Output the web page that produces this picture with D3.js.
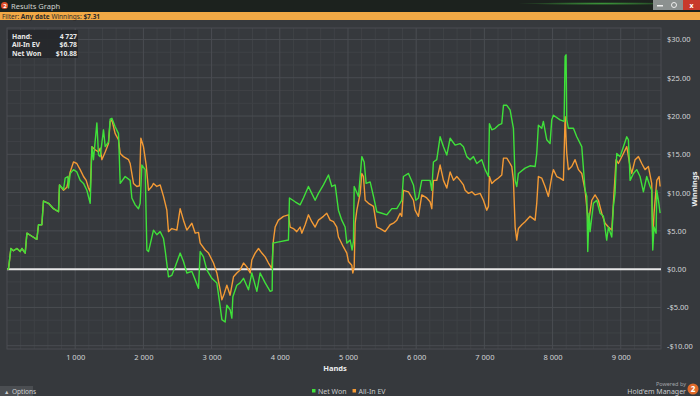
<!DOCTYPE html>
<html>
<head>
<meta charset="utf-8">
<script src="https://cdn.jsdelivr.net/npm/d3@7"></script>
<style>
  body { margin: 0; background: #36393d; }
  svg { display: block; font-family: "Noto Sans", "Open Sans", sans-serif; }
</style>
</head>
<body>
<div id="chart"></div>
<script>
// hands played vs cumulative winnings ($)
const netWon = [
  [0,0],[22,0],[57,2.7],[95,2.4],[145,2.7],[194,2.3],[218,2.7],[267,2.1],[292,4.7],[365,4.3],
  [438,3.9],[462,5.8],[511,5.8],[535,8.9],[609,8.6],[682,7.9],[755,7.5],[770,11.0],[829,10.4],[853,11.9],
  [892,12.1],[902,10.6],[927,12.5],[975,13.0],[1024,12.7],[1073,11.6],[1122,11.2],[1171,10.3],[1220,8.6],[1245,16.0],
  [1268,14.3],[1318,19.1],[1342,14.9],[1366,14.7],[1415,18.2],[1440,16.0],[1488,16.6],[1513,19.6],[1538,19.7],[1586,18.6],
  [1635,17.7],[1660,11.2],[1733,12.1],[1806,11.6],[1831,9.3],[1880,8.4],[1928,7.9],[1953,8.6],[1978,13.6],[2026,13.0],
  [2051,2.5],[2075,2.3],[2148,5.1],[2197,4.5],[2246,4.9],[2295,4.0],[2319,2.5],[2368,-1.0],[2417,-0.8],[2466,0.3],
  [2539,2.1],[2588,1.0],[2637,-0.5],[2711,-0.3],[2760,-1.4],[2808,-2.5],[2833,2.3],[2881,1.6],[2930,-0.1],[3004,-1.2],
  [3077,-1.8],[3126,-4.9],[3151,-6.6],[3199,-6.9],[3224,-4.7],[3272,-5.3],[3297,-6.4],[3312,-3.6],[3370,-2.1],[3419,-1.8],
  [3468,-1.2],[3541,-2.7],[3590,-0.5],[3664,-2.9],[3712,-0.5],[3786,-1.8],[3859,-2.9],[3888,-2.8],[3898,3.4],[4006,3.6],
  [4127,3.8],[4142,9.3],[4225,8.8],[4298,8.4],[4347,9.3],[4420,10.8],[4469,9.9],[4518,9.0],[4567,9.9],[4640,11.0],
  [4714,12.3],[4763,10.8],[4812,11.0],[4860,7.7],[4909,6.4],[4958,5.5],[4983,3.4],[5032,3.8],[5061,2.5],[5080,3.6],
  [5091,10.8],[5154,9.5],[5203,14.7],[5237,14.0],[5266,11.2],[5325,11.4],[5374,9.5],[5423,7.5],[5496,7.3],[5570,7.1],
  [5643,7.9],[5716,7.9],[5789,9.0],[5813,12.1],[5887,12.5],[5960,11.0],[5995,9.0],[6033,9.3],[6082,11.6],[6204,11.6],
  [6229,10.3],[6253,14.0],[6302,14.3],[6351,17.3],[6400,16.0],[6449,14.9],[6498,17.1],[6571,16.2],[6644,16.4],[6693,16.0],
  [6742,14.7],[6791,14.3],[6840,14.7],[6889,13.8],[6962,14.3],[7011,13.0],[7060,12.1],[7074,19.0],[7109,18.2],[7158,18.4],
  [7206,18.8],[7255,19.0],[7280,21.4],[7329,21.4],[7377,20.8],[7426,18.4],[7451,11.6],[7475,10.8],[7499,12.5],[7597,13.2],
  [7670,13.5],[7744,13.4],[7768,15.1],[7792,18.8],[7841,18.4],[7865,19.3],[7915,16.9],[7963,16.4],[7988,19.5],[8012,20.1],
  [8110,19.5],[8169,19.3],[8184,27.8],[8198,28.0],[8208,19.5],[8232,18.4],[8306,18.4],[8355,17.3],[8428,16.0],[8477,10.3],
  [8502,9.5],[8516,2.3],[8535,7.3],[8550,4.9],[8599,8.6],[8648,9.0],[8697,7.3],[8746,6.9],[8794,3.8],[8819,5.5],
  [8868,4.2],[8892,8.2],[8916,9.9],[8941,15.1],[8990,14.7],[9039,16.0],[9088,17.3],[9112,16.9],[9137,11.6],[9186,12.5],
  [9234,13.0],[9283,12.1],[9332,10.1],[9381,12.1],[9430,10.8],[9454,10.3],[9469,2.5],[9488,5.5],[9518,4.7],[9528,10.3],
  [9552,9.0],[9577,7.31]
];

const allInEV = [
  [0,0],[22,0],[57,2.7],[95,2.4],[145,2.7],[194,2.3],[218,2.7],[267,2.1],[292,4.7],[365,4.3],
  [438,3.9],[462,5.8],[511,5.8],[535,8.9],[609,8.6],[682,7.9],[755,7.5],[770,11.0],[829,10.3],[878,10.7],
  [927,12.7],[975,14.0],[1024,13.8],[1073,13.0],[1122,12.1],[1161,11.6],[1195,10.6],[1220,10.1],[1245,16.0],[1293,15.6],
  [1342,15.3],[1366,15.8],[1391,14.3],[1440,15.3],[1488,16.4],[1513,19.3],[1538,19.5],[1586,17.7],[1635,16.9],[1660,15.1],
  [1708,14.7],[1782,14.3],[1806,13.8],[1855,11.2],[1904,10.8],[1943,10.9],[1963,17.1],[2001,16.0],[2041,13.6],[2075,10.3],
  [2124,10.8],[2148,11.2],[2197,10.8],[2246,11.0],[2295,9.5],[2344,7.7],[2368,4.9],[2417,5.3],[2491,5.1],[2539,7.9],
  [2588,6.4],[2637,5.1],[2711,6.0],[2760,4.7],[2808,4.8],[2833,3.4],[2906,2.5],[2955,2.1],[3028,0.8],[3077,-0.5],
  [3126,-2.7],[3151,-4.0],[3185,-3.2],[3224,-2.1],[3272,-3.4],[3321,-1.0],[3370,-0.5],[3419,-0.1],[3468,0.8],[3517,0.3],
  [3566,-0.5],[3590,1.2],[3639,2.1],[3688,2.7],[3737,2.1],[3786,1.6],[3834,0.8],[3883,0.1],[3907,3.8],[3932,5.5],
  [3980,6.4],[4054,6.9],[4127,7.1],[4152,5.5],[4200,5.3],[4249,4.9],[4298,5.5],[4323,4.7],[4372,5.8],[4420,7.1],
  [4469,6.2],[4518,5.5],[4567,6.4],[4640,6.9],[4689,7.3],[4738,6.4],[4787,6.2],[4836,5.5],[4860,4.2],[4933,2.9],
  [4983,2.1],[5007,1.0],[5056,0.5],[5071,-0.5],[5091,0.3],[5105,6.0],[5130,7.7],[5179,9.9],[5203,12.5],[5227,12.1],
  [5252,9.0],[5301,8.6],[5374,8.2],[5423,5.5],[5472,5.3],[5545,4.9],[5618,5.8],[5667,6.0],[5716,6.4],[5765,7.3],
  [5789,6.9],[5813,10.3],[5887,10.1],[5960,9.0],[5984,7.7],[6033,6.9],[6082,9.7],[6155,9.3],[6204,8.8],[6229,7.9],
  [6253,11.6],[6302,11.6],[6351,13.6],[6400,11.6],[6449,10.6],[6498,12.7],[6547,11.6],[6596,12.1],[6644,11.6],[6693,11.0],
  [6718,10.3],[6767,9.9],[6816,10.1],[6864,9.7],[6938,9.9],[6986,9.0],[7035,7.7],[7060,8.2],[7074,12.1],[7109,11.2],
  [7158,11.6],[7206,11.9],[7255,12.3],[7280,14.5],[7329,14.5],[7377,13.8],[7402,13.4],[7426,11.6],[7451,5.5],[7475,3.8],
  [7499,5.3],[7548,5.8],[7597,6.2],[7670,6.9],[7744,6.4],[7768,8.6],[7792,12.1],[7841,11.9],[7890,10.8],[7939,9.5],
  [7988,12.1],[8012,13.0],[8061,12.1],[8110,11.9],[8159,11.6],[8184,19.9],[8208,15.1],[8232,13.0],[8281,13.4],[8330,14.3],
  [8379,13.0],[8428,12.5],[8477,10.3],[8525,6.0],[8575,9.0],[8623,9.7],[8672,9.0],[8721,7.3],[8770,6.0],[8819,5.5],
  [8868,5.1],[8892,8.6],[8931,14.3],[8965,13.8],[9039,15.1],[9088,16.0],[9137,13.4],[9161,12.5],[9210,14.3],[9259,14.7],
  [9308,13.8],[9356,13.0],[9405,13.4],[9454,11.2],[9469,3.8],[9488,7.3],[9528,11.6],[9562,12.1],[9577,10.8]
];

const handTicks = [1000, 2000, 3000, 4000, 5000, 6000, 7000, 8000, 9000];
const winTicks = [-10, -5, 0, 5, 10, 15, 20, 25, 30];
const infoRows = [["Hand:", "4 727"], ["All-In EV", "$6.78"], ["Net Won", "$10.88"]];
const legendItems = [["Net Won", "#3fe03a"], ["All-In EV", "#f39a35"]];

const W = 700, H = 396;
const svg = d3.select("#chart").append("svg")
  .attr("width", W).attr("height", H);

const defs = svg.append("defs");
let glow = defs.append("radialGradient").attr("id", "glow")
  .attr("cx", "0.86").attr("cy", "0.3").attr("r", "0.12");
glow.append("stop").attr("offset", "0").attr("stop-color", "#3c9a3a");
glow.append("stop").attr("offset", "1").attr("stop-color", "#1c221e");

// title bar
svg.append("rect").attr("width", W).attr("height", 12).attr("fill", "url(#glow)");
svg.append("circle").attr("cx", 4.5).attr("cy", 5.5).attr("r", 3.5).attr("fill", "#e0502a");
svg.append("text").attr("x", 3.2).attr("y", 8).attr("font-size", 6).attr("font-weight", "bold")
  .attr("fill", "#fff").text("2");
svg.append("text").attr("x", 11).attr("y", 8.5).attr("font-size", 7.5)
  .attr("fill", "#cfd3cf").text("Results Graph");
svg.append("rect").attr("x", 653).attr("y", 0).attr("width", 30).attr("height", 10).attr("fill", "#8c9190");
svg.append("rect").attr("x", 683).attr("y", 0).attr("width", 17).attr("height", 10).attr("fill", "#c8392b");
svg.append("rect").attr("x", 657).attr("y", 5).attr("width", 6).attr("height", 1.5).attr("fill", "#eee");
svg.append("circle").attr("cx", 674).attr("cy", 5).attr("r", 2.5).attr("fill", "none").attr("stroke", "#eee");
svg.append("text").attr("x", 691.5).attr("y", 8).attr("font-size", 7).attr("text-anchor", "middle")
  .attr("fill", "#fff").attr("font-weight", "bold").text("x");

// filter bar
svg.append("rect").attr("y", 12).attr("width", W).attr("height", 8).attr("fill", "#f2a945");
let filter = svg.append("text").attr("x", 2).attr("y", 18.5).attr("font-size", 6.5).attr("fill", "#2b2b2b");
filter.append("tspan").text("Filter: ");
filter.append("tspan").attr("font-weight", "bold").text("Any date");
filter.append("tspan").text(" Winnings: ");
filter.append("tspan").attr("font-weight", "bold").text("$7.31");

// scales
let x = d3.scaleLinear().domain([0, 9590]).range([7, 661]);
let y = d3.scaleLinear().domain([-10.43, 31.5]).range([349, 28]);

// grid
let plot = svg.append("g");
let minorX = d3.range(200, 9590, 200).filter(d => d % 1000 != 0);
let minorY = d3.range(-10, 31.5, 5 / 3).filter(d => Math.abs(d / 5 - Math.round(d / 5)) > 0.01);

plot.selectAll(".mx").data(minorX).enter().append("line")
  .attr("x1", d => x(d)).attr("x2", d => x(d)).attr("y1", 28).attr("y2", 349)
  .attr("stroke", "#3f4246").attr("stroke-width", 1);
plot.selectAll(".my").data(minorY).enter().append("line")
  .attr("y1", d => y(d)).attr("y2", d => y(d)).attr("x1", 7).attr("x2", 661)
  .attr("stroke", "#3f4246").attr("stroke-width", 1);
plot.selectAll(".gx").data(handTicks).enter().append("line")
  .attr("x1", d => x(d)).attr("x2", d => x(d)).attr("y1", 28).attr("y2", 349)
  .attr("stroke", "#4a4d52").attr("stroke-width", 1);
plot.selectAll(".gy").data(winTicks).enter().append("line")
  .attr("y1", d => y(d)).attr("y2", d => y(d)).attr("x1", 7).attr("x2", 661)
  .attr("stroke", "#4a4d52").attr("stroke-width", 1);
plot.append("rect").attr("x", 7).attr("y", 28).attr("width", 654).attr("height", 321)
  .attr("fill", "none").attr("stroke", "#4a4d52");

// zero line
plot.append("line").attr("x1", 7).attr("x2", 661).attr("y1", y(0)).attr("y2", y(0))
  .attr("stroke", "#e6e6e6").attr("stroke-width", 2);

// series
let line = d3.line().x(d => x(d[0])).y(d => y(d[1]));
plot.append("path").datum(allInEV).attr("d", line)
  .attr("fill", "none").attr("stroke", "#f39a35").attr("stroke-width", 1.4).attr("stroke-linejoin", "round");
plot.append("path").datum(netWon).attr("d", line)
  .attr("fill", "none").attr("stroke", "#3fe03a").attr("stroke-width", 1.4).attr("stroke-linejoin", "round");

// axes
let xAxis = d3.axisBottom(x).tickValues(handTicks).tickSize(0)
  .tickFormat(d => d3.format(",")(d).replace(",", " "));
let gx = svg.append("g").attr("transform", "translate(0,352)").call(xAxis);
gx.select(".domain").remove();
gx.selectAll("text").attr("fill", "#d2d4d6").attr("font-size", 7.5).attr("font-family", "Noto Sans");

let yAxis = d3.axisRight(y).tickValues(winTicks).tickSize(0)
  .tickFormat(d => (d < 0 ? "-$" : "$") + Math.abs(d).toFixed(2));
let gy = svg.append("g").attr("transform", "translate(664,0)").call(yAxis);
gy.select(".domain").remove();
gy.selectAll("text").attr("fill", "#d2d4d6").attr("font-size", 7.5).attr("font-family", "Noto Sans");

svg.append("text").attr("x", 335).attr("y", 371).attr("text-anchor", "middle")
  .attr("font-size", 7.5).attr("font-weight", "bold").attr("fill", "#eceeef").text("Hands");
svg.append("text").attr("transform", "translate(697,189) rotate(-90)").attr("text-anchor", "middle")
  .attr("font-size", 7.5).attr("font-weight", "bold").attr("fill", "#eceeef").text("Winnings");

// hover info box
let info = svg.append("g");
info.append("rect").attr("x", 8).attr("y", 30).attr("width", 70).attr("height", 28)
  .attr("fill", "#25272a").attr("opacity", 0.92);
infoRows.forEach((r, i) => {
  info.append("text").attr("x", 12).attr("y", 38.5 + i * 8.6).attr("font-size", 6.8)
    .attr("font-weight", "bold").attr("fill", "#e8e8e8").text(r[0]);
  info.append("text").attr("x", 77).attr("y", 38.5 + i * 8.6).attr("font-size", 6.8)
    .attr("text-anchor", "end").attr("font-weight", "bold").attr("fill", "#e8e8e8").text(r[1]);
});

// legend
let lx = 312;
legendItems.forEach(it => {
  svg.append("rect").attr("x", lx).attr("y", 389).attr("width", 3.5).attr("height", 3.5).attr("fill", it[1]);
  let t = svg.append("text").attr("x", lx + 6).attr("y", 393.5).attr("font-size", 7)
    .attr("fill", "#c9cbcd").text(it[0]);
  lx += 6 + t.node().getComputedTextLength() + 6;
});

// options button
svg.append("rect").attr("x", 0).attr("y", 386).attr("width", 33).attr("height", 10).attr("fill", "#4b4e52");
svg.append("text").attr("x", 4).attr("y", 394).attr("font-size", 5.5).attr("fill", "#ccc").text("\u25b2");
svg.append("text").attr("x", 12).attr("y", 394).attr("font-size", 6.5).attr("fill", "#d0d2d4").text("Options");

// powered by
svg.append("text").attr("x", 686).attr("y", 386).attr("text-anchor", "end").attr("font-size", 5.5)
  .attr("fill", "#a0a3a6").text("Powered by");
svg.append("text").attr("x", 686).attr("y", 393.5).attr("text-anchor", "end").attr("font-size", 7)
  .attr("fill", "#c9cbcd").text("Hold'em Manager");
svg.append("circle").attr("cx", 693).attr("cy", 389).attr("r", 5.5).attr("fill", "#e06a2a");
svg.append("text").attr("x", 693).attr("y", 392).attr("text-anchor", "middle").attr("font-size", 8)
  .attr("font-weight", "bold").attr("fill", "#fff").text("2");
</script>
</body>
</html>
